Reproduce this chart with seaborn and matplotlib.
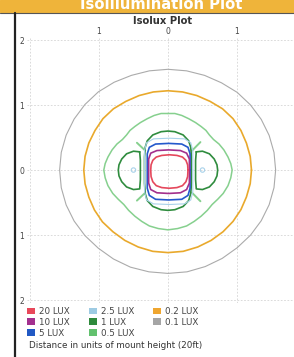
import numpy as np
import matplotlib
matplotlib.use('Agg')
import matplotlib.pyplot as plt
import seaborn as sns
from matplotlib.patches import Patch, Rectangle
from matplotlib.lines import Line2D

# legend entries
lux_labels = ['20 LUX', '10 LUX', '5 LUX', '2.5 LUX', '1 LUX', '0.5 LUX', '0.2 LUX', '0.1 LUX']
lux_colors = ['#e8485a', '#a3308f', '#2159c4', '#9ecbe3', '#2e8a3c', '#62c16e', '#efa630', '#a5a5a5']

# outer contours as radii (mount heights) every 10 degrees
angles_deg = list(range(0, 360, 10))
r_01 = [1.56, 1.56, 1.56, 1.56, 1.56, 1.56, 1.55, 1.55, 1.55, 1.55, 1.55, 1.55,
        1.56, 1.57, 1.57, 1.57, 1.57, 1.57, 1.57, 1.57, 1.57, 1.57, 1.57, 1.57,
        1.58, 1.59, 1.59, 1.59, 1.59, 1.58, 1.57, 1.56, 1.56, 1.56, 1.56, 1.56]
r_02 = [1.21, 1.21, 1.21, 1.22, 1.23, 1.23, 1.22, 1.22, 1.22, 1.22, 1.22, 1.22,
        1.22, 1.23, 1.23, 1.22, 1.22, 1.22, 1.22, 1.22, 1.22, 1.23, 1.24, 1.24,
        1.25, 1.26, 1.27, 1.27, 1.27, 1.26, 1.25, 1.24, 1.23, 1.22, 1.21, 1.21]

# 0.5 lux
x_05 = [0.0, 0.10, 0.20, 0.30, 0.40, 0.48, 0.55, 0.60, 0.66, 0.74, 0.81, 0.87, 0.91, 0.93,
        0.91, 0.87, 0.80, 0.72, 0.64, 0.57, 0.48, 0.38, 0.27, 0.14, 0.0,
        -0.14, -0.27, -0.38, -0.48, -0.57, -0.64, -0.72, -0.80, -0.87, -0.91, -0.93,
        -0.91, -0.87, -0.81, -0.74, -0.66, -0.60, -0.55, -0.48, -0.40, -0.30, -0.20, -0.10]
y_05 = [0.87, 0.87, 0.84, 0.79, 0.73, 0.67, 0.61, 0.54, 0.47, 0.40, 0.31, 0.20, 0.10, 0.0,
        -0.12, -0.24, -0.36, -0.45, -0.53, -0.62, -0.71, -0.79, -0.86, -0.90, -0.92,
        -0.90, -0.86, -0.79, -0.71, -0.62, -0.53, -0.45, -0.36, -0.24, -0.12, 0.0,
        0.10, 0.20, 0.31, 0.40, 0.47, 0.54, 0.61, 0.67, 0.73, 0.79, 0.84, 0.87]
# small 0.5 lux spikes (x0, y0, x1, y1)
spikes_05 = [(-0.45, 0.42, -0.33, 0.30), (0.47, 0.43, 0.35, 0.30),
             (-0.45, -0.47, -0.33, -0.35), (0.47, -0.48, 0.35, -0.35)]

# 1 lux: centre and the two side lobes
x_1 = [0.34, 0.34, 0.33, 0.30, 0.22, 0.10, 0.0, -0.10, -0.22, -0.30, -0.33, -0.34,
       -0.34, -0.34, -0.33, -0.30, -0.22, -0.10, 0.0, 0.10, 0.22, 0.30, 0.33, 0.34]
y_1 = [0.0, 0.20, 0.35, 0.45, 0.54, 0.59, 0.60, 0.59, 0.54, 0.45, 0.35, 0.20,
       0.0, -0.20, -0.36, -0.47, -0.56, -0.61, -0.62, -0.61, -0.56, -0.47, -0.36, -0.20]
x_1_right = [0.41, 0.50, 0.60, 0.67, 0.71, 0.72, 0.71, 0.67, 0.60, 0.50, 0.41, 0.40, 0.40, 0.40]
y_1_right = [0.28, 0.29, 0.25, 0.17, 0.08, 0.0, -0.09, -0.18, -0.26, -0.30, -0.29, -0.15, 0.0, 0.15]
x_1_left = [-0.41, -0.50, -0.60, -0.67, -0.71, -0.72, -0.71, -0.67, -0.60, -0.50, -0.41, -0.40, -0.40, -0.40]
y_1_left = [0.28, 0.29, 0.25, 0.17, 0.08, 0.0, -0.09, -0.18, -0.26, -0.30, -0.29, -0.15, 0.0, 0.15]

# 2.5 lux
x_25 = [0.36, 0.36, 0.33, 0.24, 0.02, -0.21, -0.31, -0.34, -0.34, -0.34, -0.31, -0.21, 0.02, 0.24, 0.33, 0.36]
y_25 = [0.0, 0.30, 0.42, 0.48, 0.49, 0.48, 0.42, 0.30, 0.0, -0.33, -0.46, -0.52, -0.53, -0.52, -0.46, -0.33]
dots_25_x = [-0.50, 0.50]
dots_25_y = [0.0, 0.0]

# 5 lux
x_5 = [0.32, 0.32, 0.29, 0.20, 0.01, -0.18, -0.27, -0.30, -0.30, -0.30, -0.27, -0.18, 0.01, 0.20, 0.29, 0.32]
y_5 = [0.0, 0.25, 0.35, 0.40, 0.41, 0.40, 0.35, 0.25, 0.0, -0.28, -0.39, -0.45, -0.46, -0.45, -0.39, -0.28]

# 10 lux
x_10 = [0.31, 0.31, 0.27, 0.18, 0.01, -0.16, -0.25, -0.28, -0.28, -0.28, -0.25, -0.16, 0.01, 0.18, 0.27, 0.31]
y_10 = [0.0, 0.17, 0.26, 0.30, 0.31, 0.30, 0.26, 0.17, 0.0, -0.20, -0.30, -0.35, -0.36, -0.35, -0.30, -0.20]

# 20 lux
x_20 = [0.29, 0.285, 0.26, 0.21, 0.13, 0.02, -0.09, -0.17, -0.22, -0.245,
        -0.25, -0.245, -0.22, -0.17, -0.09, 0.02, 0.13, 0.21, 0.26, 0.285]
y_20 = [0.0, 0.08, 0.15, 0.20, 0.225, 0.235, 0.225, 0.20, 0.15, 0.08,
        0.0, -0.10, -0.18, -0.24, -0.27, -0.28, -0.27, -0.24, -0.18, -0.10]

x_ticks = [-2, -1, 0, 1]
x_tick_labels = ['', '1', '0', '1']
y_ticks = [2, 1, 0, -1, -2]
y_tick_labels = ['2', '1', '0', '1', '2']

sns.set_style('white')
plt.rcParams['font.family'] = ['DejaVu Sans']

W, H = 294, 357
fig = plt.figure(figsize=(W / 100, H / 100), dpi=100)
ax = fig.add_axes([26.5 / W, 1 - 303.3 / H, (W - 26.5) / W, 266.5 / H])


def closed_line(xs, ys, color, lw):
    xs = np.append(xs, xs[0])
    ys = np.append(ys, ys[0])
    sns.lineplot(x=xs, y=ys, sort=False, estimator=None, color=color, linewidth=lw, ax=ax)


theta = np.deg2rad(angles_deg)
closed_line(np.array(r_01) * np.cos(theta), np.array(r_01) * np.sin(theta), '#ababab', 0.8)
closed_line(np.array(r_02) * np.cos(theta), np.array(r_02) * np.sin(theta), '#e9a92c', 1.2)
closed_line(x_05, y_05, '#86d08e', 1.1)
for s in spikes_05:
    sns.lineplot(x=[s[0], s[2]], y=[s[1], s[3]], sort=False, estimator=None, color='#86d08e', linewidth=1.4, ax=ax)
closed_line(x_1, y_1, '#2f8c3e', 1.2)
closed_line(x_1_right, y_1_right, '#2f8c3e', 1.2)
closed_line(x_1_left, y_1_left, '#2f8c3e', 1.2)
closed_line(x_25, y_25, '#a9d2ea', 0.8)
sns.scatterplot(x=dots_25_x, y=dots_25_y, marker='o', s=10, facecolor='none', edgecolor='#a9d2ea', linewidth=0.8, ax=ax)
closed_line(x_5, y_5, '#2459cc', 1.2)
closed_line(x_10, y_10, '#a32f8c', 1.2)
closed_line(x_20, y_20, '#e5485c', 1.2)

ax.set_xlim(-2.05, (W - 168) / 69)
ax.set_ylim(-2.05, 2.05)
ax.xaxis.tick_top()
ax.set_xticks(x_ticks)
ax.set_xticklabels(x_tick_labels)
ax.set_yticks(y_ticks)
ax.set_yticklabels(y_tick_labels)
ax.tick_params(length=0, labelsize=5.5, labelcolor='#444444')
ax.tick_params(axis='x', pad=0.5)
ax.tick_params(axis='y', pad=1.5)
ax.grid(True, color='#d4d4d4', lw=0.6, ls=(0, (2, 2)))
ax.set_xlabel('')
ax.set_ylabel('')
for sp in ax.spines.values():
    sp.set_visible(False)

# header bar and frame
fig.add_artist(Rectangle((0, 1 - 12 / H), 1, 12 / H, transform=fig.transFigure, color='#efb43a', zorder=0))
fig.text(161 / W, 1 - 9 / H, 'Isoillumination Plot', ha='center', va='baseline', color='white',
         fontsize=10.6, fontweight='bold')
fig.add_artist(Line2D([0, 1], [1 - 12.5 / H] * 2, transform=fig.transFigure, color='#555555', lw=0.8))
fig.add_artist(Line2D([15 / W] * 2, [0, 1 - 12.5 / H], transform=fig.transFigure, color='#222222', lw=1.6))

fig.text(163 / W, 1 - 21 / H, 'Isolux Plot', ha='center', va='center', fontsize=7.2,
         fontweight='bold', color='#333333')

handles = [Patch(facecolor=c, edgecolor='none') for c in lux_colors]
fig.legend(handles, lux_labels, ncol=3, loc='upper left', bbox_to_anchor=(27 / W, 1 - 307 / H),
           frameon=False, fontsize=6.3, handlelength=0.9, handleheight=0.8, handletextpad=0.45,
           columnspacing=2.2, labelspacing=0.2, borderpad=0, borderaxespad=0, labelcolor='#444444')

fig.text(29 / W, 1 - 345 / H, 'Distance in units of mount height (20ft)', ha='left', va='center',
         fontsize=6.3, color='#333333')

fig.savefig('out.png', dpi=100)
